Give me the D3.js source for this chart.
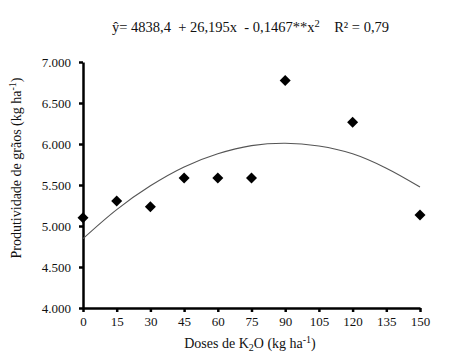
<!DOCTYPE html>
<html><head><meta charset="utf-8">
<script src="https://cdn.jsdelivr.net/npm/d3@7"></script>
<style>body{margin:0;background:#fff;}svg{display:block;}text{font-family:"Liberation Serif","Times New Roman",serif;fill:#111;white-space:pre;}</style>
</head><body>
<svg id="c" width="468" height="358"></svg>
<script>
const doses = [0, 15, 30, 45, 60, 75, 90, 120, 150];
const yields = [5100, 5305, 5235, 5585, 5585, 5585, 6775, 6265, 5135];
const curveX = [0, 15, 30, 45, 60, 75, 90, 105, 120, 135, 150];
const curveY = [4845, 5200, 5490, 5720, 5880, 5980, 6010, 5975, 5880, 5705, 5475];
const xTicks = [0, 15, 30, 45, 60, 75, 90, 105, 120, 135, 150];
const yTicks = [4000, 4500, 5000, 5500, 6000, 6500, 7000];

const svg = d3.select("#c");
const x = d3.scaleLinear().domain([0,150]).range([83,420]);
const y = d3.scaleLinear().domain([4000,7000]).range([308,62]);

const xa = svg.append("g").attr("transform","translate(0,308)")
  .call(d3.axisBottom(x).tickValues(xTicks).tickSize(4).tickPadding(5).tickSizeOuter(0));
const ya = svg.append("g").attr("transform","translate(83,0)")
  .call(d3.axisLeft(y).tickValues(yTicks).tickSize(4).tickPadding(8).tickSizeOuter(0)
    .tickFormat(v => (v/1000).toFixed(3)));
[xa, ya].forEach(a => {
  a.select(".domain").attr("stroke","#000").attr("stroke-width",2.5);
  a.selectAll(".tick line").attr("stroke","#000").attr("stroke-width",2.5);
  a.selectAll("text").style("font-size","13px").attr("fill","#111");
});

svg.append("path").datum(curveX.map((d,i)=>[d,curveY[i]]))
  .attr("fill","none").attr("stroke","#555").attr("stroke-width",1.1)
  .attr("d", d3.line().x(d=>x(d[0])).y(d=>y(d[1])).curve(d3.curveCatmullRom));

svg.append("g").selectAll("path").data(doses).join("path")
  .attr("transform",(d,i)=>`translate(${x(d)},${y(yields[i])})`)
  .attr("d","M0,-5.5L5.5,0L0,5.5L-5.5,0Z").attr("fill","#000");

const eq = svg.append("text").attr("x",112).attr("y",32).style("font-size","14.5px");
eq.append("tspan").text("ŷ= 4838,4  + 26,195x  - 0,1467**x");
eq.append("tspan").attr("dy",-5).style("font-size","10.5px").text("2");
eq.append("tspan").attr("dy",5).text("    R² = 0,79");

const xt = svg.append("text").attr("x",250).attr("y",348).attr("text-anchor","middle").style("font-size","14px");
xt.append("tspan").text("Doses de K");
xt.append("tspan").attr("dy",3).style("font-size","10px").text("2");
xt.append("tspan").attr("dy",-3).text("O (kg ha");
xt.append("tspan").attr("dy",-5).style("font-size","10px").text("-1");
xt.append("tspan").attr("dy",5).text(")");

const yt = svg.append("text").attr("transform","translate(21,168) rotate(-90)").attr("text-anchor","middle").style("font-size","14px");
yt.append("tspan").text("Produtividade de grãos (kg ha");
yt.append("tspan").attr("dy",-5).style("font-size","10px").text("-1");
yt.append("tspan").attr("dy",5).text(")");
</script>
</body></html>
